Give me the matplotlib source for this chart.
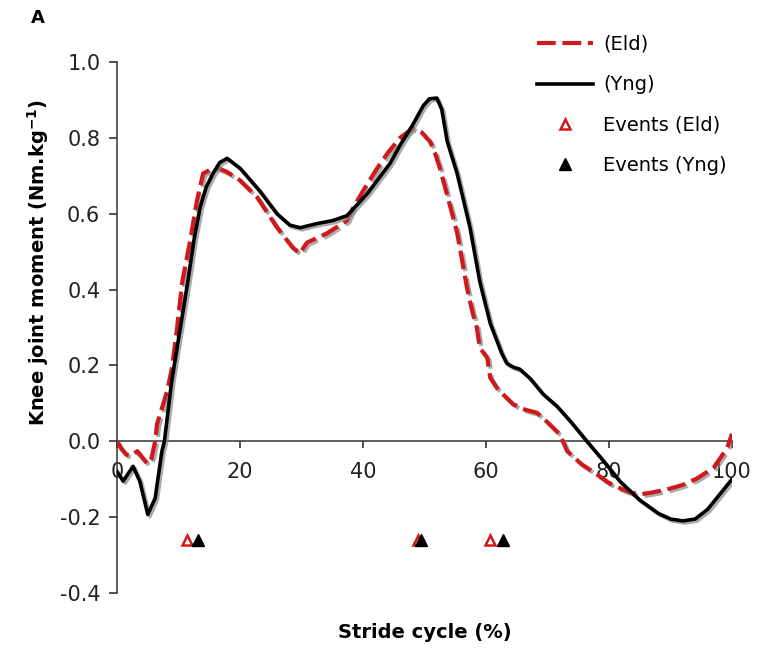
import numpy as np
import matplotlib
matplotlib.use('Agg')
import matplotlib.pyplot as plt
import matplotlib.patheffects as pe
from matplotlib.lines import Line2D

plt.rc('font', family='DejaVu Sans', size=15)
plt.rc('axes', unicode_minus=False)

# young adults, knee moment over the stride
yng_x = [0, 1.0, 2.6, 3.7, 5.0, 6.2, 7.3, 7.7, 8.9, 10.2, 11.5, 12.5, 13.5, 14.5,
         15.6, 16.7, 17.9, 20.0, 23.2, 26.0, 28.1, 29.8, 32.5, 35.1, 37.4, 40.7,
         44.4, 46.0, 48.1, 49.8, 50.8, 52.0, 52.8, 53.7, 55.3, 57.4, 59.0, 60.7,
         62.6, 63.4, 64.5, 65.5, 67.2, 69.3, 71.5, 73.7, 76.4, 79.0, 81.8, 85.0,
         88.0, 90.0, 92.0, 94.0, 96.0, 98.0, 100.0]
yng_y = [-0.08, -0.105, -0.066, -0.105, -0.193, -0.15, -0.026, 0.0, 0.16, 0.29,
         0.42, 0.53, 0.616, 0.67, 0.706, 0.735, 0.746, 0.72, 0.66, 0.60, 0.57,
         0.563, 0.574, 0.582, 0.595, 0.653, 0.733, 0.78, 0.835, 0.885, 0.903,
         0.905, 0.875, 0.79, 0.706, 0.563, 0.42, 0.31, 0.23, 0.205, 0.195, 0.19,
         0.165, 0.124, 0.093, 0.053, 0.0, -0.05, -0.106, -0.155, -0.19, -0.205,
         -0.21, -0.205, -0.18, -0.14, -0.10]

# elderly adults
eld_x = [0, 0.7, 1.5, 2.3, 3.3, 4.2, 5.0, 5.6, 6.2, 6.5, 8.1, 8.9, 9.7, 10.6,
         11.9, 13.0, 14.0, 15.6, 16.5, 17.9, 20.0, 22.8, 26.0, 28.6, 29.8, 30.3,
         30.9, 34.1, 37.4, 38.4, 40.0, 42.3, 44.0, 46.0, 48.1, 49.5, 50.9, 51.7,
         52.5, 54.0, 55.3, 56.9, 57.8, 58.5, 59.0, 60.2, 60.7, 61.8, 63.0, 64.4,
         66.0, 68.3, 70.0, 72.0, 73.2, 75.5, 78.0, 80.0, 81.8, 83.5, 85.0, 87.0,
         89.4, 92.0, 94.3, 97.0, 99.2, 100.0]
eld_y = [0.0, -0.02, -0.035, -0.038, -0.026, -0.045, -0.06, -0.045, 0.0, 0.045,
         0.13, 0.19, 0.29, 0.42, 0.53, 0.635, 0.706, 0.72, 0.72, 0.71, 0.688,
         0.643, 0.564, 0.51, 0.495, 0.51, 0.524, 0.548, 0.582, 0.616, 0.66, 0.72,
         0.76, 0.80, 0.825, 0.815, 0.79, 0.76, 0.72, 0.63, 0.55, 0.405, 0.34,
         0.30, 0.246, 0.22, 0.167, 0.14, 0.12, 0.098, 0.085, 0.075, 0.05, 0.018,
         -0.026, -0.06, -0.087, -0.11, -0.124, -0.135, -0.14, -0.135, -0.127,
         -0.115, -0.098, -0.07, -0.018, 0.02]

# gait events (% of stride)
eld_events = [11.4, 49.0, 60.7]
yng_events = [13.2, 49.4, 62.8]
event_level = -0.26

yticks = [-0.4, -0.2, 0.0, 0.2, 0.4, 0.6, 0.8, 1.0]
ytick_labels = ['-0.4', '-0.2', '0.0', '0.2', '0.4', '0.6', '0.8', '1.0']
xticks = [0, 20, 40, 60, 80, 100]
xtick_labels = ['0', '20', '40', '60', '80', '100']

red = '#d0191c'
shadow = [pe.SimpleLineShadow(offset=(1.5, -1.5), shadow_color='#888888', alpha=0.7),
          pe.Normal()]

fig = plt.figure(figsize=(7.57, 6.5), dpi=100)
ax = fig.add_axes([0.1546, 0.0877, 0.8124, 0.8169])

ax.plot(eld_x, eld_y, color=red, lw=3, ls=(0, (4.5, 1.6)), path_effects=shadow, zorder=3)
ax.plot(yng_x, yng_y, color='black', lw=2.6, path_effects=shadow, zorder=4)

ax.plot(eld_events, [event_level] * len(eld_events), ls='none', marker='^',
        mfc='white', mec=red, mew=1.8, ms=7, zorder=5)
ax.plot(yng_events, [event_level] * len(yng_events), ls='none', marker='^',
        color='black', ms=8, zorder=6)

ax.set_xlim(0, 100)
ax.set_ylim(-0.4, 1.0)
ax.set_xticks(xticks)
ax.set_xticklabels(xtick_labels)
ax.set_yticks(yticks)
ax.set_yticklabels(ytick_labels)

for s in ['top', 'right']:
    ax.spines[s].set_visible(False)
ax.spines['bottom'].set_position(('data', 0))
for s in ['left', 'bottom']:
    ax.spines[s].set_color('#333333')
    ax.spines[s].set_linewidth(1.1)
ax.tick_params(axis='x', direction='out', length=5, width=1.1, pad=10, colors='#222222')
ax.tick_params(axis='y', direction='out', length=6, width=1.1, pad=6, colors='#222222')

ax.set_xlabel('Stride cycle (%)', fontweight='bold', fontsize=14)
ax.xaxis.label.set_va('center')
ax.xaxis.set_label_coords(0.5, -0.075)
ax.set_ylabel('Knee joint moment (Nm.kg$^{\\mathbf{-1}}$)', fontweight='bold', fontsize=14)
ax.yaxis.label.set_va('center')
ax.yaxis.set_label_coords(-0.128, 0.623)

fig.text(38 / 757, 1 - 18 / 650, 'A', fontweight='bold', fontsize=13, ha='center', va='center')

handles = [
    Line2D([], [], color=red, lw=3, ls=(0, (4.5, 1.6))),
    Line2D([], [], color='black', lw=2.6),
    Line2D([], [], ls='none', marker='^', mfc='white', mec=red, mew=1.8, ms=7),
    Line2D([], [], ls='none', marker='^', color='black', ms=8),
]
labels = ['(Eld)', '(Yng)', 'Events (Eld)', 'Events (Yng)']
fig.legend(handles, labels, loc='upper left', bbox_to_anchor=(537 / 757, 1 - 35 / 650),
           bbox_transform=fig.transFigure, frameon=False, fontsize=14, borderpad=0,
           borderaxespad=0, handlelength=2.9, handletextpad=0.5, labelspacing=1.1)

fig.savefig('out.png', dpi=100)
